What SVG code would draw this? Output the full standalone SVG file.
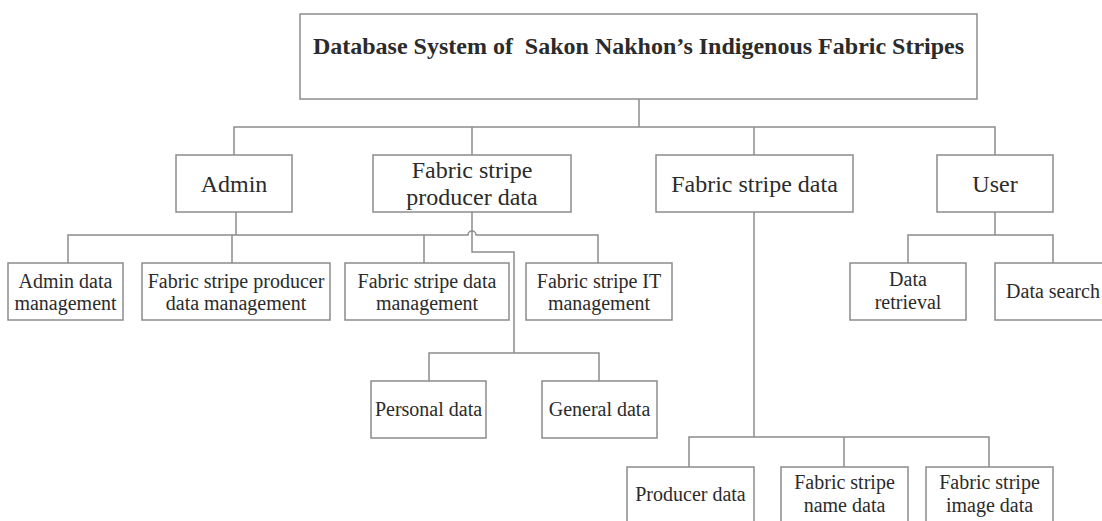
<svg xmlns="http://www.w3.org/2000/svg" width="1102" height="521" viewBox="0 0 1102 521">
  <style>
    .box { fill: #ffffff; stroke: #8c8c8c; stroke-width: 1.5; }
    .wire { fill: none; stroke: #8c8c8c; stroke-width: 1.5; }
    text { font-family: "Liberation Serif", "Times New Roman", serif; fill: #2b2b2b; text-anchor: middle; }
    .title { font-size: 24px; font-weight: bold; }
    .l1 { font-size: 24px; }
    .l2 { font-size: 20px; }
  </style>
  <rect width="1102" height="521" fill="#ffffff"/>

  <!-- connectors -->
  <g id="connectors" class="wire">
    <!-- root to first level -->
    <path d="M639 99 V127"/>
    <path d="M234 155 V127 H995 V155"/>
    <path d="M472 127 V155"/>
    <path d="M754 127 V155"/>
    <!-- Admin branch (with a jump over the producer line) -->
    <path d="M236 212 V235"/>
    <path d="M68 263 V235 H468 A4 4 0 0 1 476 235 H598 V263"/>
    <path d="M232 235 V263"/>
    <path d="M424 235 V263"/>
    <!-- Fabric stripe producer data branch -->
    <path d="M472 212 V252 H514 V353"/>
    <path d="M429 381 V353 H599 V381"/>
    <!-- Fabric stripe data branch -->
    <path d="M754 212 V437"/>
    <path d="M689 467 V437 H989 V467"/>
    <path d="M844 437 V467"/>
    <!-- User branch -->
    <path d="M995 212 V235"/>
    <path d="M908 263 V235 H1053 V263"/>
  </g>

  <!-- root -->
  <g id="root">
    <rect class="box" x="300" y="14" width="677" height="85"/>
    <text class="title" x="638.5" y="54" xml:space="preserve">Database System of  Sakon Nakhon’s Indigenous Fabric Stripes</text>
  </g>

  <!-- first level -->
  <g id="admin">
    <rect class="box" x="176" y="155" width="116" height="57"/>
    <text class="l1" x="234" y="192">Admin</text>
  </g>
  <g id="producer">
    <rect class="box" x="373" y="155" width="198" height="57"/>
    <text class="l1" x="472" y="177.5">Fabric stripe</text>
    <text class="l1" x="472" y="205">producer data</text>
  </g>
  <g id="stripe-data">
    <rect class="box" x="656" y="155" width="197" height="57"/>
    <text class="l1" x="754.5" y="192">Fabric stripe data</text>
  </g>
  <g id="user">
    <rect class="box" x="937" y="155" width="116" height="57"/>
    <text class="l1" x="995" y="192">User</text>
  </g>

  <!-- Admin children -->
  <g id="admin-data-management">
    <rect class="box" x="8" y="263" width="115" height="57"/>
    <text class="l2" x="65.5" y="288">Admin data</text>
    <text class="l2" x="65.5" y="310">management</text>
  </g>
  <g id="producer-data-management">
    <rect class="box" x="142" y="263" width="188" height="57"/>
    <text class="l2" x="236" y="288">Fabric stripe producer</text>
    <text class="l2" x="236" y="310">data management</text>
  </g>
  <g id="stripe-data-management">
    <rect class="box" x="345" y="263" width="164" height="57"/>
    <text class="l2" x="427" y="288">Fabric stripe data</text>
    <text class="l2" x="427" y="310">management</text>
  </g>
  <g id="stripe-it-management">
    <rect class="box" x="526" y="263" width="146" height="57"/>
    <text class="l2" x="599" y="288">Fabric stripe IT</text>
    <text class="l2" x="599" y="310">management</text>
  </g>

  <!-- producer children -->
  <g id="personal-data">
    <rect class="box" x="371" y="381" width="115" height="57"/>
    <text class="l2" x="428.5" y="416">Personal data</text>
  </g>
  <g id="general-data">
    <rect class="box" x="542" y="381" width="115" height="57"/>
    <text class="l2" x="599.5" y="416">General data</text>
  </g>

  <!-- Fabric stripe data children -->
  <g id="producer-data">
    <rect class="box" x="627" y="467" width="127" height="57"/>
    <text class="l2" x="690.5" y="501">Producer data</text>
  </g>
  <g id="stripe-name-data">
    <rect class="box" x="781" y="467" width="127" height="57"/>
    <text class="l2" x="844.5" y="489">Fabric stripe</text>
    <text class="l2" x="844.5" y="512">name data</text>
  </g>
  <g id="stripe-image-data">
    <rect class="box" x="926" y="467" width="127" height="57"/>
    <text class="l2" x="989.5" y="489">Fabric stripe</text>
    <text class="l2" x="989.5" y="512">image data</text>
  </g>

  <!-- User children -->
  <g id="data-retrieval">
    <rect class="box" x="850" y="263" width="116" height="57"/>
    <text class="l2" x="908" y="286">Data</text>
    <text class="l2" x="908" y="309">retrieval</text>
  </g>
  <g id="data-search">
    <rect class="box" x="995" y="263" width="116" height="57"/>
    <text class="l2" x="1053" y="298">Data search</text>
  </g>
</svg>
